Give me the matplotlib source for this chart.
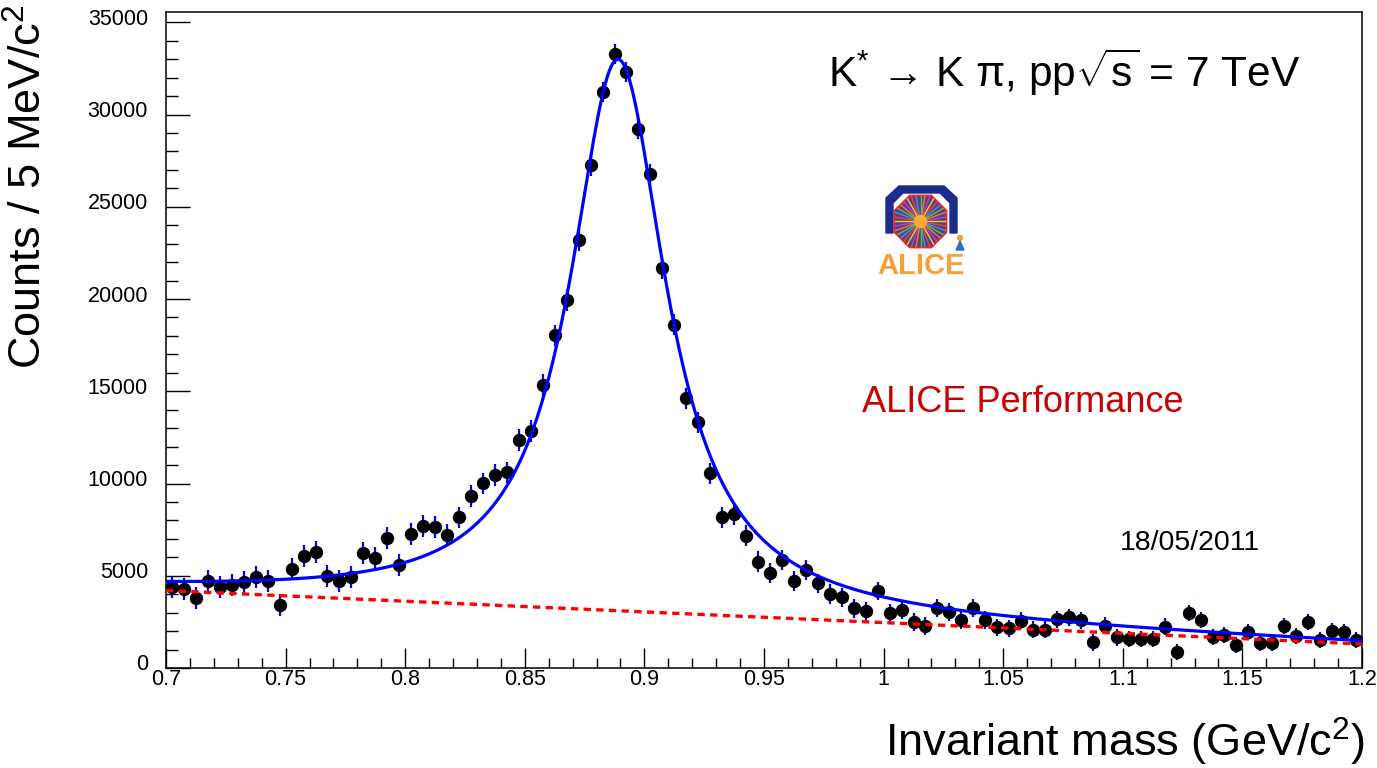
import numpy as np
import matplotlib
matplotlib.use("Agg")
import matplotlib.pyplot as plt
import matplotlib.transforms as mtransforms
from matplotlib.patches import Polygon, Circle
from matplotlib.ticker import MultipleLocator, FuncFormatter

plt.rcParams['font.family'] = ['Liberation Sans', 'DejaVu Sans']
plt.rcParams['mathtext.fontset'] = 'custom'
plt.rcParams['mathtext.rm'] = 'Liberation Sans'
plt.rcParams['mathtext.it'] = 'Liberation Sans:italic'
plt.rcParams['mathtext.bf'] = 'Liberation Sans:bold'
plt.rcParams['mathtext.sf'] = 'Liberation Sans'

# K pi invariant mass, 5 MeV/c^2 bins from 0.7 to 1.2 GeV/c^2
mass_lo = 0.7
mass_hi = 1.2
bin_w = 0.005

counts = [4372, 4279, 3792, 4697, 4404, 4496, 4642, 4946, 4729, 3413,
          5363, 6083, 6267, 4967, 4697, 4946, 6213, 5959, 7042, 5596,
          7250, 7709, 7654, 7205, 8163, 9334, 10005, 10471, 10601, 12351,
          12855, 15330, 18039, 19935, 23185, 27248, 31240, 33298, 32323, 29235,
          26760, 21668, 18597, 14610, 13330, 10547, 8163, 8342, 7167, 5758,
          5130, 5867, 4729, 5309, 4588, 4009, 3830, 3234, 3104, 4170,
          2963, 3142, 2508, 2291, 3234, 3017, 2600, 3234, 2600, 2205,
          2150, 2562, 2075, 2075, 2654, 2746, 2600, 1392, 2291, 1663,
          1571, 1571, 1571, 2237, 883, 2963, 2616, 1696, 1788, 1246,
          1966, 1354, 1354, 2259, 1750, 2476, 1533, 2021, 1966, 1533]

errors = [600, 600, 600, 600, 600, 600, 600, 600, 600, 600,
          600, 600, 600, 600, 600, 600, 600, 600, 600, 600,
          600, 590, 590, 590, 590, 590, 590, 590, 590, 580,
          580, 580, 570, 570, 560, 560, 550, 550, 550, 560,
          560, 560, 570, 570, 570, 580, 580, 580, 560, 560,
          540, 540, 540, 520, 520, 520, 510, 510, 500, 500,
          500, 490, 490, 490, 480, 480, 480, 480, 470, 470,
          470, 470, 460, 460, 460, 460, 460, 450, 450, 450,
          450, 450, 450, 450, 440, 440, 440, 440, 440, 440,
          430, 430, 430, 430, 430, 430, 430, 430, 430, 430]

# fit: Breit-Wigner + linear background
fit_mass = 0.889
fit_width = 0.049
fit_amp = 29900
bg_at_lo = 4200
bg_slope = -5800

centers = mass_lo + bin_w / 2 + bin_w * np.arange(len(counts))
xf = np.linspace(mass_lo, mass_hi, 600)
bg = bg_at_lo + bg_slope * (xf - mass_lo)
hw = fit_width / 2
sig = fit_amp * hw**2 / ((xf - fit_mass)**2 + hw**2)

W, H = 1377, 768
fig = plt.figure(figsize=(W / 100, H / 100), dpi=100)
ax = fig.add_axes([166 / W, 1 - 668 / H, (1362 - 166) / W, (668 - 12) / H])

ax.errorbar(centers, counts, xerr=bin_w / 2, fmt='none', ecolor='black', elinewidth=0.8, zorder=2)
ax.errorbar(centers, counts, yerr=errors, fmt='none', ecolor='blue', elinewidth=1.6, zorder=2)
ax.plot(centers, counts, 'o', color='black', ms=8.6, zorder=3)
ax.plot(xf, bg + sig, color='blue', lw=2.3, zorder=4)
ax.plot(xf, bg, color='red', lw=2.4, ls=(0, (2.2, 1.6)), zorder=5)

ax.set_xlim(mass_lo, mass_hi)
ax.set_ylim(0, 35560)
ax.xaxis.set_major_locator(MultipleLocator(0.05))
ax.xaxis.set_minor_locator(MultipleLocator(0.01))
ax.yaxis.set_major_locator(MultipleLocator(5000))
ax.yaxis.set_minor_locator(MultipleLocator(1000))
ax.xaxis.set_major_formatter(FuncFormatter(lambda v, p: '%g' % round(v, 3)))
ax.yaxis.set_major_formatter(FuncFormatter(lambda v, p: '%d' % v))
ax.tick_params(which='both', direction='in', top=False, right=False, width=1.0, labelsize=15.5)
ax.tick_params(axis='x', which='major', length=14.4, pad=1)
ax.tick_params(axis='x', which='minor', length=7.2)
ax.tick_params(axis='y', which='major', length=17, pad=13)
ax.tick_params(axis='y', which='minor', length=8.6)
for s in ax.spines.values():
    s.set_linewidth(1.1)

shift = mtransforms.ScaledTranslation(0, 5.5 / 100, fig.dpi_scale_trans)
for lbl in ax.get_yticklabels():
    lbl.set_transform(lbl.get_transform() + shift)

fig.text(29 / W, 1 - 4 / H, r'Counts / 5 MeV/c$^{2}$', rotation=90, ha='center', va='top', fontsize=32.5)
fig.text(1365 / W, 1 - 757 / H, r'Invariant mass (GeV/c$^{2}$)', ha='right', va='baseline', fontsize=32.5)
fig.text(828 / W, 1 - 87 / H, r'K$^{*}$ → K π, pp$\sqrt{\mathrm{s}}$ = 7 TeV',
         ha='left', va='baseline', fontsize=30.5)
fig.text(862 / W, 1 - 412 / H, 'ALICE Performance', ha='left', va='baseline', fontsize=26, color='#c80000')
fig.text(1120 / W, 1 - 550 / H, '18/05/2011', ha='left', va='baseline', fontsize=20.5)

# rough ALICE logo
lg = fig.add_axes([870 / W, 1 - 280 / H, 102 / W, 100 / H])
lg.set_xlim(870, 972)
lg.set_ylim(280, 180)
lg.axis('off')
arch = [(886, 233), (886, 198), (899, 186), (944, 186), (957, 198), (957, 233),
        (950, 233), (950, 203), (940, 193), (903, 193), (893, 203), (893, 233)]
lg.add_patch(Polygon(arch, closed=True, color='#1c2c8c'))
cx, cy, r = 920.5, 221.5, 28
ang = np.radians(22.5 + 45 * np.arange(8))
octa = Polygon(np.column_stack([cx + r * np.cos(ang), cy + r * np.sin(ang)]), closed=True,
               facecolor='#5a3c8c', edgecolor='#e8202a', lw=1.5, zorder=2)
lg.add_patch(octa)
ray_cols = ['#f5d020', '#e84a30', '#30a0d0', '#60c040', '#f08020', '#c040c0']
for k, a in enumerate(np.radians(np.arange(0, 360, 10))):
    ln, = lg.plot([cx, cx + r * np.cos(a)], [cy, cy + r * np.sin(a)],
                  color=ray_cols[k % len(ray_cols)], lw=1.0, zorder=3)
    ln.set_clip_path(octa)
lg.add_patch(Circle((cx, cy), 6, color='#ffb030', alpha=0.9, zorder=4))
lg.add_patch(Circle((960, 238), 2.5, color='#f0a040', zorder=4))
lg.add_patch(Polygon([(956, 250), (960, 241), (964, 250)], closed=True, color='#3070c0', zorder=4))
lg.text(921, 266, 'ALICE', ha='center', va='center', fontsize=21, fontweight='bold', color='#f7a035')

fig.savefig('out.png', dpi=100)
